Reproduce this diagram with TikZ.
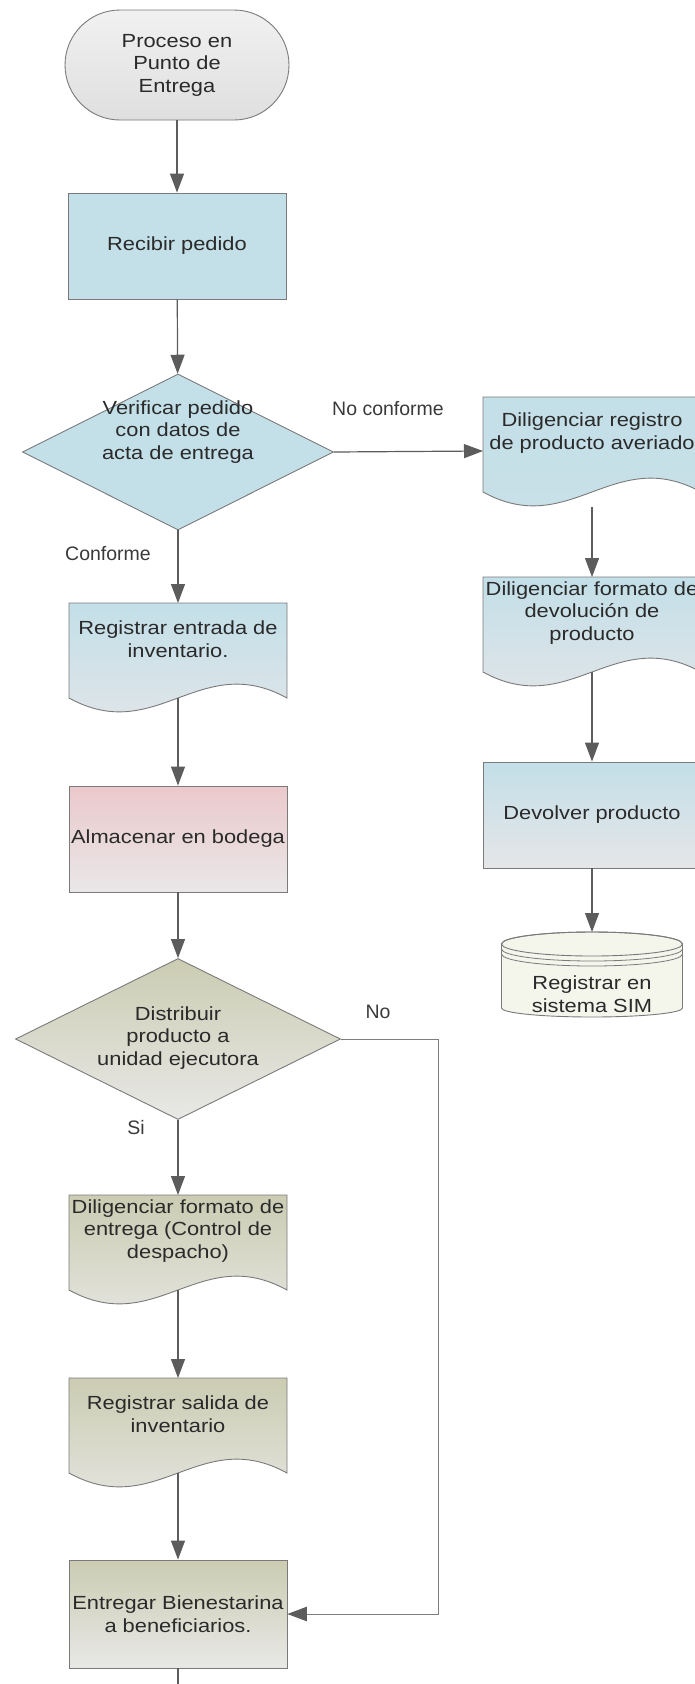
\documentclass[tikz,border=0pt]{standalone}
\usepackage{fontspec}
\setmainfont{Liberation Sans}[FakeStretch=1.15]
\newfontfamily\tagfamily{Liberation Sans}
\usetikzlibrary{arrows.meta,shapes.geometric}

\definecolor{ink}{HTML}{2A2A2A}
\definecolor{tagink}{HTML}{3A3A3A}
\definecolor{edge}{HTML}{7A7A7A}
\definecolor{wire}{HTML}{5C5C5C}
\definecolor{thinwire}{HTML}{7E7E7E}
\definecolor{blueA}{HTML}{C3DFE8}
\definecolor{blueB}{HTML}{E5E6E8}
\definecolor{pinkA}{HTML}{EBC9CC}
\definecolor{pinkB}{HTML}{E9E7E8}
\definecolor{oliveA}{HTML}{CBCCB2}
\definecolor{oliveB}{HTML}{E8E8E6}
\definecolor{greyA}{HTML}{F1F1F1}
\definecolor{greyB}{HTML}{DFDFDF}
\definecolor{creamA}{HTML}{F4F6EC}

\newcommand\shapefont{\fontsize{19}{22.5}\selectfont}
\newcommand\tagfont{\tagfamily\fontsize{19.5}{23}\selectfont}

% document symbol: name, centre x, top y, top colour, bottom colour, text
\newcommand{\flowdoc}[6]{%
  \shade[draw=edge, line width=0.9pt, top color=#4, bottom color=#5]
    ({#2-109},{#3}) -- ({#2+109},{#3}) -- ({#2+109},{#3+95})
    .. controls ({#2+21.8},{#3+95-48}) and ({#2-21.8},{#3+95+48}) .. ({#2-109},{#3+95})
    -- cycle;
  \node[shapetext] (#1) at ({#2},{#3+36}) {#6};
  \coordinate (#1-n) at ({#2},{#3});
  \coordinate (#1-s) at ({#2},{#3+95});
  \coordinate (#1-w) at ({#2-109},{#3+54});
}

\begin{document}
\begin{tikzpicture}[x=1pt, y=-1pt,
  shapetext/.style={text=ink, font=\shapefont, align=center, inner sep=0pt},
  stepbox/.style={shapetext, rectangle, draw=edge, line width=0.9pt,
    minimum width=218pt, minimum height=106pt},
  startbox/.style={shapetext, rectangle, rounded corners=55pt, draw=edge,
    line width=0.9pt, minimum width=224pt, minimum height=110pt,
    top color=greyA, bottom color=greyB},
  decision/.style={diamond, draw=edge, line width=0.9pt, inner sep=0pt},
  tag/.style={text=tagink, font=\tagfont, inner sep=0pt},
  flow/.style={draw=wire, line width=1.2pt, -{Triangle[length=19pt,width=14pt]}},
  thinflow/.style={draw=thinwire, line width=0.9pt,
    -{Triangle[length=19.5pt,width=14.5pt,color=wire]}},
  wireline/.style={draw=wire, line width=1.2pt}]

\path[use as bounding box, fill=white] (0,0) rectangle (694,1684);

% main column
\node[startbox] (start) at (177,65) {Proceso en\\Punto de\\Entrega};
\node[stepbox, fill=blueA] (recv) at (177,246) {Recibir pedido};

\node[decision, fill=blueA, minimum width=311pt, minimum height=156pt] (chk) at (178,452) {};
\node[shapetext] (chktxt) at (178,432) {Verificar pedido\\con datos de\\acta de entrega};

\flowdoc{regin}{178}{603}{blueA}{blueB}{Registrar entrada de\\inventario.}

\node[stepbox, top color=pinkA, bottom color=pinkB] (store) at (178,839) {Almacenar en bodega};

\node[decision, top color=oliveA, bottom color=oliveB, minimum width=325pt, minimum height=161pt] (dist) at (178,1039) {};
\node[shapetext] (disttxt) at (178,1038) {Distribuir\\producto a\\unidad ejecutora};

\flowdoc{fmt}{178}{1195}{oliveA}{oliveB}{Diligenciar formato de\\entrega (Control de\\despacho)}
\flowdoc{regout}{178}{1378}{oliveA}{oliveB}{Registrar salida de\\inventario}

\node[stepbox, top color=oliveA, bottom color=oliveB, minimum height=108pt] (give) at (178,1614) {Entregar Bienestarina\\a beneficiarios.};

% right column
\flowdoc{dmg}{592}{397}{blueA}{blueA!80!blueB}{Diligenciar registro\\de producto averiado}
\flowdoc{ret}{592}{577}{blueA}{blueB}{Diligenciar formato de\\devolución de\\producto}
\node[stepbox, top color=blueA, bottom color=blueB] (back) at (592,815) {Devolver producto};

% database symbol
\path[fill=creamA, draw=edge, line width=0.9pt]
  (501.5,944) -- (501.5,1008)
  arc[start angle=180, end angle=360, x radius=90.5pt, y radius=9pt]
  -- (682.5,944)
  arc[start angle=0, end angle=180, x radius=90.5pt, y radius=12pt]
  -- cycle;
\draw[edge, line width=0.9pt] (592,944) ellipse [x radius=90.5pt, y radius=12pt];
\draw[edge, line width=0.8pt] (501.5,949) arc[start angle=180, end angle=360, x radius=90.5pt, y radius=12pt];
\draw[edge, line width=0.8pt] (501.5,954) arc[start angle=180, end angle=360, x radius=90.5pt, y radius=12pt];
\coordinate (sim-n) at (592,932);
\node[shapetext] (sim) at (592,994) {Registrar en\\sistema SIM};

% branch labels
\node[tag] (lblno1) at (388,409) {No conforme};
\node[tag] (lblyes1) at (108,554) {Conforme};
\node[tag] (lblno2) at (378,1012) {No};
\node[tag] (lblyes2) at (136,1128) {Si};

% connectors
\coordinate (dmgfoot) at (592,507);
\coordinate (nobend) at (438,1039);
\coordinate (tail) at (178,1700);

\draw[flow] (start) -- (recv);
\draw[flow] (recv) -- (chk);
\draw[flow] (chk) -- (regin-n);
\draw[flow] (chk.east) -- (dmg-w);
\draw[flow] (regin-s) -- (store);
\draw[flow] (store) -- (dist);
\draw[flow] (dist) -- (fmt-n);
\draw[flow] (fmt-s) -- (regout-n);
\draw[flow] (regout-s) -- (give);
\draw[thinflow] (dist.east) -- (nobend) |- (give.east);
\draw[wireline] (give) -- (tail);

\draw[flow] (dmgfoot) -- (ret-n);
\draw[flow] (ret-s) -- (back);
\draw[flow] (back) -- (sim-n);

\end{tikzpicture}
\end{document}
